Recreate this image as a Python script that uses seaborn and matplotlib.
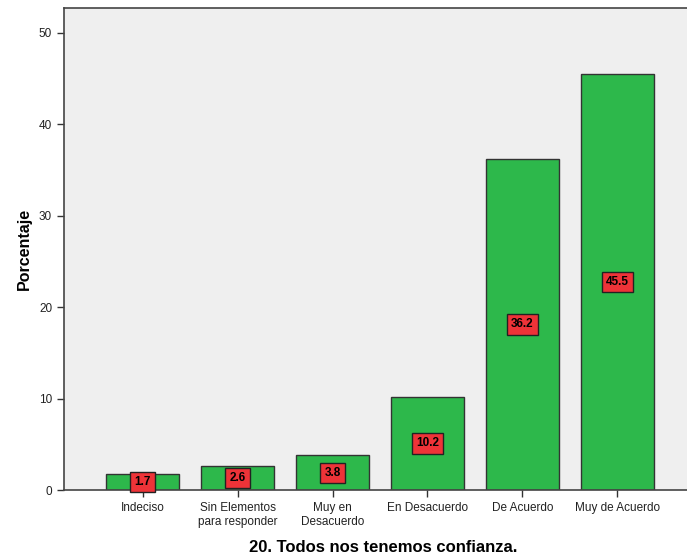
import matplotlib
matplotlib.use("Agg")
import matplotlib.pyplot as plt
import seaborn as sns
import pandas as pd

categorias = ['Indeciso', 'Sin Elementos\npara responder', 'Muy en\nDesacuerdo',
              'En Desacuerdo', 'De Acuerdo', 'Muy de Acuerdo']
porcentajes = [1.7, 2.6, 3.8, 10.2, 36.2, 45.5]
ticks_y = [0, 10, 20, 30, 40, 50]

df = pd.DataFrame({'cat': categorias, 'pct': porcentajes})

sns.set_style("white")
plt.rcParams['font.family'] = ['Liberation Sans', 'DejaVu Sans']

fig = plt.figure(figsize=(6.87, 5.54), dpi=100)
ax = fig.add_axes([0.093, 0.1155, 0.93, 0.87])
ax.set_facecolor('#EFEFEF')

sns.barplot(data=df, x='cat', y='pct', color='#2DB84B', saturation=1,
            width=0.77, edgecolor='#333333', linewidth=1, ax=ax)

# etiquetas en el centro de cada barra
for i, v in enumerate(porcentajes):
    ax.text(i, v / 2, f'{v:.1f}', ha='center', va='center', fontsize=8.5,
            fontweight='bold', color='black',
            bbox=dict(boxstyle='square,pad=0.35', facecolor='#EE3338',
                      edgecolor='#222222', linewidth=1))

ax.set_xlim(-0.83, 5.9)
ax.set_ylim(0, 52.7)
ax.set_yticks(ticks_y)
ax.tick_params(axis='both', direction='out', length=5, width=1, color='#333333',
               labelsize=8.5, labelcolor='#222222', bottom=True, left=True)
for s in ['left', 'top', 'bottom']:
    ax.spines[s].set_color('#444444')
    ax.spines[s].set_linewidth(1.2)
ax.spines['right'].set_visible(False)

ax.set_ylabel('Porcentaje', fontsize=11.5, fontweight='bold', labelpad=5,
              color='black')
ax.set_xlabel('20. Todos nos tenemos confianza.', fontsize=12,
              fontweight='bold', labelpad=9, color='black')

fig.savefig('out.png', dpi=100)
